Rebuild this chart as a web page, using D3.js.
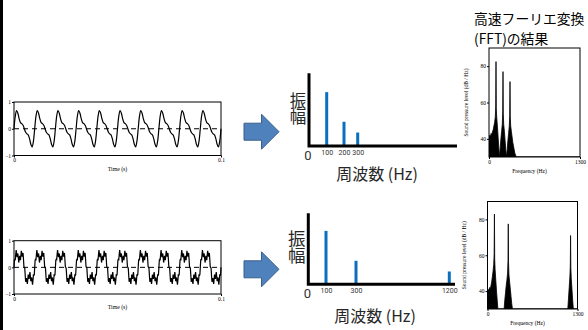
<!DOCTYPE html>
<html><head><meta charset="utf-8">
<script src="https://cdn.jsdelivr.net/npm/d3@7"></script>
<style>html,body{margin:0;padding:0;background:#fff;}svg{display:block;}</style>
</head><body><svg id="c" width="588" height="330"></svg>
<script>
// ---------- DATA ----------
// one period (0.01 s) of each waveform, sampled evenly, normalised to the -1..1 axis
const wave1Period = [0, 0.47, 0.68, 0.58, 0.37, 0.23, 0.19, 0.13, 0, -0.13, -0.19, -0.23, -0.37, -0.58, -0.68, -0.47];
const wave2Period = [0, 0.28, 0.30, 0.29, 0.49, 0.65, 0.53, 0.38, 0.45, 0.52, 0.34, 0.18,
  0.29, 0.43, 0.34, 0.27, 0.45, 0.62, 0.53, 0.40, 0.49, 0.54, 0.30, 0.03,
  0, -0.03, -0.30, -0.54, -0.49, -0.40, -0.53, -0.62, -0.45, -0.27, -0.34, -0.43,
  -0.29, -0.18, -0.34, -0.52, -0.45, -0.38, -0.53, -0.65, -0.49, -0.29, -0.30, -0.28];
const periodSeconds = 0.01;
const periodsShown = 10;
const timeTicks = [0, 0.1];
const waveTicks = [-1, 0, 1];

// schematic amplitude spectra
const spec1Freq = [100, 200, 300];
const spec1Amp = [1.0, 0.45, 0.25];
const spec2Freq = [100, 300, 1200];
const spec2Amp = [1.0, 0.44, 0.24];

// FFT results (Hz, dB/Hz)
const fft1Freq = [0,10,20,30,40,50,60,70,80,90,96,100,104,110,120,130,140,150,160,170,180,190,196,200,204,210,220,230,240,250,260,270,280,290,296,300,304,310,320,330,340,350,360,370,380,390,400,1300];
const fft1Db   = [41,42,41,43,42,44,45,47,49,52,58,82.5,57,52,47,41,35,29,35,40,44,48,55,77,54,48,44,39,34,29,34,39,43,47,53,71.5,52,47,44,41,38,36,34,32,31,29,25,25];
const fft2Freq = [0,10,20,30,40,50,60,70,80,90,96,100,104,110,120,130,140,150,160,230,240,250,260,270,280,290,296,300,304,310,320,330,340,350,360,370,1150,1160,1170,1180,1190,1196,1200,1204,1210,1220,1230,1240,1250,1300];
const fft2Db   = [40,41,40,42,41,43,45,48,51,55,61,83,58,52,46,40,35,30,27,27,30,35,39,43,46,50,57,77.5,56,49,45,41,37,33,30,27,27,30,36,42,48,54,71,53,47,41,35,30,27,27];
const fftDbTicks = [40, 60, 80];
const fftFreqTicks = [0, 1300];

// ---------- DRAW ----------
const svg = d3.select('#c');
const SERIF = '"Liberation Serif","DejaVu Serif",serif';
const CJK = '"Noto Sans CJK JP","Noto Sans CJK SC",sans-serif';

svg.append('rect').attr('x', 0).attr('y', 0).attr('width', 3).attr('height', 330).attr('fill', '#000');

function wavePanel(period, box, curve) {
  const g = svg.append('g');
  const x = d3.scaleLinear().domain([0, 0.1]).range([box.x0, box.x1]);
  const y = d3.scaleLinear().domain([-1, 1]).range([box.y1, box.y0]);
  const pts = [];
  for (let p = 0; p < periodsShown; p++)
    period.forEach((v, i) => pts.push([(p + i / period.length) * periodSeconds, v]));
  pts.push([periodsShown * periodSeconds, period[0]]);

  g.append('line').attr('x1', x(0)).attr('x2', x(0.1)).attr('y1', y(0)).attr('y2', y(0))
    .attr('stroke', '#000').attr('stroke-width', 1).attr('stroke-dasharray', '5,4');
  g.append('path').datum(pts)
    .attr('d', d3.line().x(d => x(d[0])).y(d => y(d[1])).curve(curve))
    .attr('fill', 'none').attr('stroke', '#000').attr('stroke-width', 1.2);
  g.append('rect').attr('x', x(0)).attr('y', y(1)).attr('width', x(0.1) - x(0)).attr('height', y(-1) - y(1))
    .attr('fill', 'none').attr('stroke', '#000').attr('stroke-width', 1);

  const ay = g.append('g').attr('transform', `translate(${x(0)},0)`)
    .call(d3.axisLeft(y).tickValues(waveTicks).tickSize(2).tickPadding(1).tickFormat(d3.format('d')));
  const ax = g.append('g').attr('transform', `translate(0,${y(-1)})`)
    .call(d3.axisBottom(x).tickValues(timeTicks).tickSize(2).tickPadding(1).tickFormat(d => d === 0 ? '0' : '0.1'));
  [ay, ax].forEach(a => {
    a.select('.domain').remove();
    a.selectAll('text').attr('font-family', SERIF).attr('font-size', 5.5).attr('fill', '#000');
  });
  g.append('text').attr('x', (x(0) + x(0.1)) / 2).attr('y', box.y1 + 15).attr('text-anchor', 'middle')
    .attr('font-family', SERIF).attr('font-size', 5.8).text('Time (s)');
}

wavePanel(wave1Period, {x0: 14, x1: 221, y0: 102, y1: 155.5}, d3.curveCatmullRom.alpha(0.5));
wavePanel(wave2Period, {x0: 14, x1: 221, y0: 240.7, y1: 294}, d3.curveLinear);

function arrow(x0, yc) {
  const p = d3.path();
  p.moveTo(x0, yc - 8.5); p.lineTo(x0 + 17.5, yc - 8.5); p.lineTo(x0 + 17.5, yc - 17.5);
  p.lineTo(x0 + 35, yc); p.lineTo(x0 + 17.5, yc + 17.5); p.lineTo(x0 + 17.5, yc + 8.5);
  p.lineTo(x0, yc + 8.5); p.closePath();
  svg.append('path').attr('d', p.toString()).attr('fill', '#4F81BD').attr('stroke', '#3A5F8B').attr('stroke-width', 1);
}
arrow(244, 131.7);
arrow(244, 269.3);

function specPanel(freqs, amps, L) {
  const g = svg.append('g');
  const x = d3.scaleLinear().domain([0, ...freqs]).range(L.xr);
  const y = d3.scaleLinear().domain([0, L.ymax]).range([L.base, L.top]);
  g.selectAll('rect.bar').data(freqs).join('rect').attr('class', 'bar')
    .attr('x', d => x(d) - 1.5).attr('width', 3)
    .attr('y', (d, i) => y(amps[i])).attr('height', (d, i) => y(0) - y(amps[i]))
    .attr('fill', '#0B6FC0');
  g.append('path').attr('d', `M${x(0)},${y(0) - (L.base - L.top)}V${y(0)}H${L.xEnd}`)
    .attr('fill', 'none').attr('stroke', '#000').attr('stroke-width', 3);
  const ax = g.append('g').attr('transform', `translate(0,${L.base + 2})`)
    .call(d3.axisBottom(x).tickValues(freqs).tickSize(0).tickPadding(2).tickFormat(d3.format('d')));
  ax.select('.domain').remove();
  ax.selectAll('text').attr('font-family', 'Roboto, sans-serif').attr('font-size', 7).attr('fill', '#333');
  g.append('text').attr('x', x(0) - 1).attr('y', L.base + 9).attr('text-anchor', 'middle')
    .attr('dominant-baseline', 'central').attr('font-family', 'Roboto, sans-serif').attr('font-size', 13).attr('fill', '#333').text('0');
  g.append('text').attr('x', L.lx).attr('y', L.ly)
    .style('writing-mode', 'vertical-rl')
    .attr('font-family', CJK).attr('font-size', L.fs).attr('fill', '#262626')
    .text('振幅');
  g.append('text').attr('x', L.tx).attr('y', L.ty).attr('text-anchor', 'middle').attr('dominant-baseline', 'central')
    .attr('font-family', CJK).attr('font-size', 16).attr('fill', '#262626').text('周波数 (Hz)');
}

specPanel(spec1Freq, spec1Amp, {xr: [309, 326.7, 344, 357.7], xEnd: 457, base: 146, top: 73.3, ymax: 1.35,
  lx: 298, ly: 92, fs: 16.5, tx: 377, ty: 173});
specPanel(spec2Freq, spec2Amp, {xr: [308.3, 326, 356, 449.3], xEnd: 455, base: 284.3, top: 213.3, ymax: 1.33,
  lx: 296.7, ly: 229.5, fs: 17.5, tx: 375, ty: 315});

function fftPanel(freqs, dbs, B, id) {
  const g = svg.append('g');
  const x = d3.scaleLinear().domain([0, 1300]).range([B.x0, B.x1]);
  const y = d3.scaleLinear().domain([30, 90]).range([B.y1, B.y0]);
  svg.append('clipPath').attr('id', id).append('rect')
    .attr('x', B.x0).attr('y', B.y0).attr('width', B.x1 - B.x0).attr('height', B.y1 - B.y0);
  const data = freqs.map((f, i) => ({f, db: dbs[i]}));
  g.append('path').datum(data).attr('clip-path', `url(#${id})`)
    .attr('d', d3.area().x(d => x(d.f)).y0(y(30)).y1(d => y(Math.max(30, d.db))))
    .attr('fill', '#000').attr('stroke', '#000').attr('stroke-width', 0.8);
  g.append('rect').attr('x', B.x0).attr('y', B.y0).attr('width', B.x1 - B.x0).attr('height', B.y1 - B.y0)
    .attr('fill', 'none').attr('stroke', '#000').attr('stroke-width', 1);
  const ay = g.append('g').attr('transform', `translate(${B.x0},0)`)
    .call(d3.axisLeft(y).tickValues(fftDbTicks).tickSize(2).tickPadding(1).tickFormat(d3.format('d')));
  const ax = g.append('g').attr('transform', `translate(0,${B.y1})`)
    .call(d3.axisBottom(x).tickValues(fftFreqTicks).tickSize(2).tickPadding(1).tickFormat(d3.format('d')));
  [ay, ax].forEach(a => {
    a.select('.domain').remove();
    a.selectAll('text').attr('font-family', SERIF).attr('font-size', 5.5).attr('fill', '#000');
  });
  g.append('text').attr('x', (B.x0 + B.x1) / 2 - 5).attr('y', B.y1 + 16).attr('text-anchor', 'middle')
    .attr('font-family', SERIF).attr('font-size', 5.5).text('Frequency (Hz)');
  g.append('text').attr('transform', `translate(${B.yt},${(B.y0 + B.y1) / 2}) rotate(-90)`)
    .attr('text-anchor', 'middle').attr('dominant-baseline', 'central')
    .attr('font-family', SERIF).attr('font-size', 5.5).text('Sound pressure level (dB / Hz)');
}

fftPanel(fft1Freq, fft1Db, {x0: 489, x1: 580, y0: 48, y1: 157, yt: 466}, 'clipA');
fftPanel(fft2Freq, fft2Db, {x0: 487.5, x1: 577.5, y0: 201.5, y1: 309, yt: 464}, 'clipB');

svg.append('text').attr('x', 474).attr('y', 17.5).attr('dominant-baseline', 'central')
  .attr('font-family', CJK).attr('font-size', 13.8).attr('fill', '#000').text('高速フーリエ変換');
svg.append('text').attr('x', 474).attr('y', 37.8).attr('dominant-baseline', 'central')
  .attr('font-family', CJK).attr('font-size', 13.8).attr('fill', '#000').text('(FFT)の結果');
</script></body></html>
